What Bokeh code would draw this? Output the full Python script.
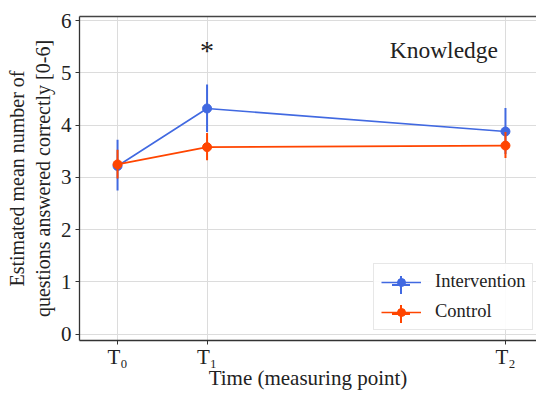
from bokeh.plotting import figure
from bokeh.models import ColumnDataSource, LinearAxis, Range1d, Legend, LegendItem, FixedTicker, Label
from bokeh.embed import file_html
from bokeh.resources import INLINE

# data
time_points = [0, 6, 26]
tick_labels = ["T\u2080", "T\u2081", "T\u2082"]
interv_mean = [3.22, 4.32, 3.88]
interv_lo = [2.75, 3.87, 3.45]
interv_hi = [3.72, 4.78, 4.33]
ctrl_mean = [3.25, 3.58, 3.61]
ctrl_lo = [2.98, 3.33, 3.37]
ctrl_hi = [3.53, 3.85, 3.87]

BLUE = "#4169E1"
RED = "#FF4500"
FONT = "Liberation Serif"
FONT2 = "'Liberation Serif', serif"

p = figure(width=536, height=394, output_backend="svg", toolbar_location=None,
           x_range=Range1d(-2.55, 28.08), y_range=Range1d(-0.12, 6.08),
           min_border_left=79, min_border_right=0, min_border_top=16, min_border_bottom=54)

p.outline_line_color = None
p.background_fill_color = "white"
p.border_fill_color = "white"

si = ColumnDataSource(dict(x=time_points, y=interv_mean, lo=interv_lo, hi=interv_hi))
sc = ColumnDataSource(dict(x=time_points, y=ctrl_mean, lo=ctrl_lo, hi=ctrl_hi))

ri_line = p.line("x", "y", source=si, color=BLUE, line_width=1.6)
ri_err = p.segment("x", "lo", "x", "hi", source=si, color=BLUE, line_width=2)
ri_pt = p.scatter("x", "y", source=si, color=BLUE, size=9)
rc_line = p.line("x", "y", source=sc, color=RED, line_width=1.6)
rc_err = p.segment("x", "lo", "x", "hi", source=sc, color=RED, line_width=2)
rc_pt = p.scatter("x", "y", source=sc, color=RED, size=9)

# legend-only error-bar crosses, placed far outside the visible range
off = ColumnDataSource(dict(x=[-1000], y=[-1000]))
li_bar = p.scatter("x", "y", source=off, marker="cross", line_color=BLUE, line_width=2)
lc_bar = p.scatter("x", "y", source=off, marker="cross", line_color=RED, line_width=2)

legend = Legend(items=[
    LegendItem(label="Intervention", renderers=[ri_line, ri_pt]),
    LegendItem(label="Control", renderers=[rc_line, rc_pt]),
], location=(294, 10))
legend.label_text_font = FONT2
legend.label_text_font_size = "18.5px"
legend.label_text_color = "#222"
legend.glyph_width = 40
legend.glyph_height = 20
legend.border_line_color = "#d0d0d0"
legend.background_fill_alpha = 0.9
legend.margin = 0
legend.padding = 7
legend.spacing = 9
legend.label_standoff = 14
p.add_layout(legend)


def bar_legend(renderer, loc):
    lg = Legend(items=[LegendItem(label=" ", renderers=[renderer])], location=loc)
    lg.glyph_width = 45
    lg.glyph_height = 45
    lg.padding = 0
    lg.margin = 0
    lg.label_standoff = 0
    lg.label_width = 1
    lg.label_text_font_size = "10px"
    lg.border_line_alpha = 0
    lg.background_fill_alpha = 0
    return lg


# overlay legends that add the vertical error bars to the legend glyphs
p.add_layout(bar_legend(li_bar, (298.5, 33.5)))
p.add_layout(bar_legend(lc_bar, (298.5, 4.5)))

# axes
p.xaxis.ticker = FixedTicker(ticks=time_points)
p.xaxis.major_label_overrides = {t: l for t, l in zip(time_points, tick_labels)}
p.yaxis.ticker = FixedTicker(ticks=[0, 1, 2, 3, 4, 5, 6])
for ax in (p.xaxis[0], p.yaxis[0]):
    ax.major_label_text_font = FONT
    ax.major_label_text_font_size = "21px"
    ax.major_label_text_color = "#222"
    ax.axis_label_text_font = FONT
    ax.axis_label_text_font_style = "normal"
    ax.axis_label_text_color = "#222"
    ax.axis_line_color = "#333"
    ax.axis_line_width = 1.3
    ax.major_tick_line_color = "#333"
    ax.major_tick_in = 0
    ax.major_tick_out = 4
    ax.minor_tick_line_color = None
p.xaxis.axis_label = "Time (measuring point)"
p.yaxis.axis_label = "Estimated mean number of\nquestions answered correctly [0-6]"
p.xaxis.axis_label_text_font_size = "21px"
p.yaxis.axis_label_text_font_size = "20px"
p.xaxis.axis_label_standoff = -6
p.yaxis.axis_label_standoff = 4
p.xaxis.major_label_standoff = 0
p.yaxis.major_label_standoff = 4

top = LinearAxis(ticker=FixedTicker(ticks=[]), major_tick_line_color=None,
                 minor_tick_line_color=None, axis_line_color="#444", axis_line_width=1.3)
p.add_layout(top, "above")

p.xgrid.grid_line_color = "#dcdcdc"
p.ygrid.grid_line_color = "#dcdcdc"

p.add_layout(Label(x=6, y=5.43, text="*", text_font=FONT2, text_font_size="28px",
                   text_align="center", text_baseline="middle", text_color="#222"))
p.add_layout(Label(x=25.5, y=5.43, text="Knowledge", text_font=FONT2, text_font_size="23.5px",
                   text_align="right", text_baseline="middle", text_color="#222"))

open("out.html", "w").write(file_html(p, INLINE))
